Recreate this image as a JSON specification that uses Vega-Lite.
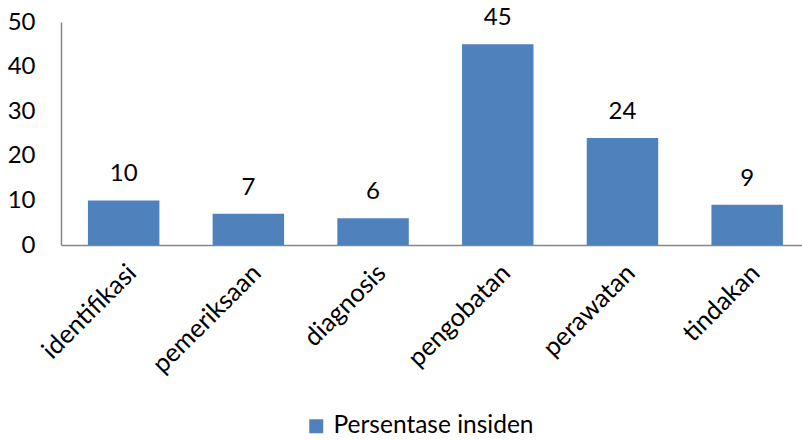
{
  "$schema": "https://vega.github.io/schema/vega-lite/v6.json",
  "width": 741,
  "height": 223,
  "autosize": {"type": "none"},
  "padding": {"left": 61, "top": 22, "right": 0, "bottom": 195},
  "background": "white",
  "config": {
    "view": {"stroke": null},
    "font": "Lato",
    "axis": {"grid": false, "ticks": false, "domainColor": "#868686", "labelFont": "Lato", "labelFontSize": 24, "labelColor": "#000000", "title": null},
    "legend": {"labelFont": "Lato", "labelFontSize": 24.5, "labelColor": "#000000", "labelLimit": 0}
  },
  "data": {
    "values": [
      {"kategori": "identifikasi", "nilai": 10, "seri": "Persentase insiden"},
      {"kategori": "pemeriksaan", "nilai": 7, "seri": "Persentase insiden"},
      {"kategori": "diagnosis", "nilai": 6, "seri": "Persentase insiden"},
      {"kategori": "pengobatan", "nilai": 45, "seri": "Persentase insiden"},
      {"kategori": "perawatan", "nilai": 24, "seri": "Persentase insiden"},
      {"kategori": "tindakan", "nilai": 9, "seri": "Persentase insiden"}
    ]
  },
  "encoding": {
    "x": {
      "field": "kategori", "type": "nominal", "sort": null,
      "scale": {"paddingInner": 0.427, "paddingOuter": 0.1846, "align": 0.585},
      "axis": {"labelAngle": -45, "labelPadding": 15, "labelDx": -2, "labelFontSize": 25.5, "domainWidth": 1.5}
    },
    "y": {
      "field": "nilai", "type": "quantitative",
      "scale": {"domain": [0, 50], "nice": false},
      "axis": {"values": [0, 10, 20, 30, 40, 50], "labelPadding": 26, "domainWidth": 1.5}
    }
  },
  "layer": [
    {
      "mark": {"type": "bar", "color": "#4F81BD"},
      "encoding": {
        "color": {
          "field": "seri", "type": "nominal",
          "scale": {"range": ["#4F81BD"]},
          "legend": {"orient": "none", "legendX": 243, "legendY": 392, "title": null, "symbolType": "square", "symbolSize": 196, "symbolStrokeWidth": 0, "labelOffset": 5}
        }
      }
    },
    {
      "mark": {"type": "text", "dy": -14, "baseline": "bottom", "fontSize": 24, "font": "Lato", "color": "#000000"},
      "encoding": {"text": {"field": "nilai", "type": "quantitative"}}
    }
  ]
}
